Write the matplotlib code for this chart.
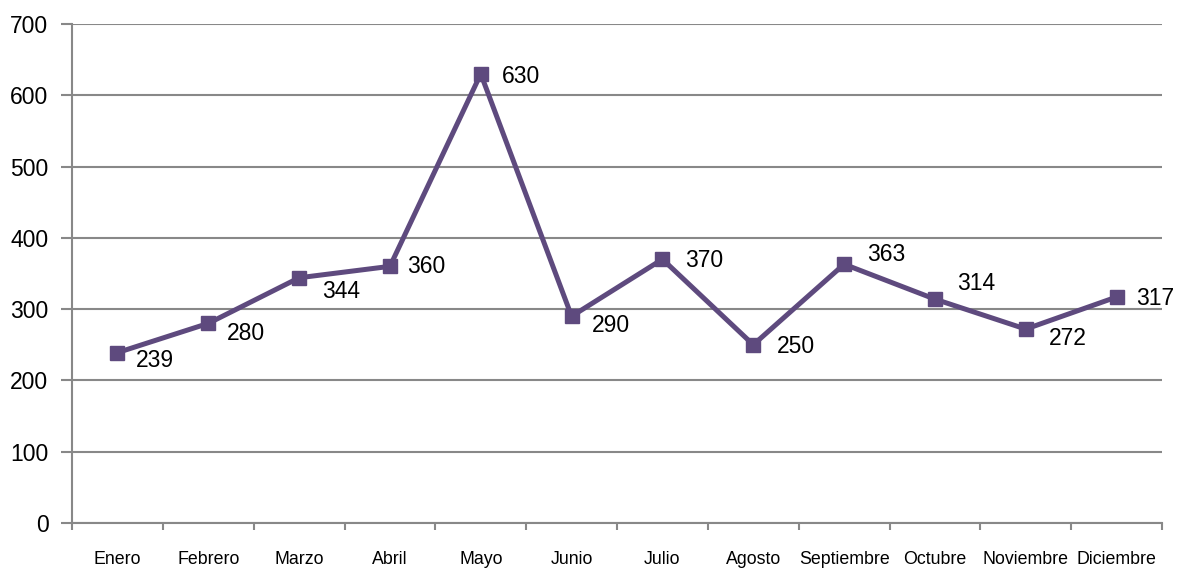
import matplotlib
matplotlib.use("Agg")
import matplotlib.pyplot as plt
from matplotlib import font_manager as fm

months = ["Enero", "Febrero", "Marzo", "Abril", "Mayo", "Junio", "Julio",
          "Agosto", "Septiembre", "Octubre", "Noviembre", "Diciembre"]
values = [239, 280, 344, 360, 630, 290, 370, 250, 363, 314, 272, 317]
y_ticks = [0, 100, 200, 300, 400, 500, 600, 700]

# label offsets in points (dx, dy)
offsets = [(27, -6), (27, -7), (30, -10), (26, 0), (29, -2), (28, -7),
           (30, -1), (31, -1), (30, 7), (30, 11), (30, -7), (28, -1)]

names = {f.name for f in fm.fontManager.ttflist}
fam = ["Liberation Sans Narrow"] if "Liberation Sans Narrow" in names else ["Liberation Sans"]
plt.rcParams["font.family"] = fam + ["DejaVu Sans"]

fig = plt.figure(figsize=(11.85, 5.71), dpi=100)
ax = fig.add_axes([0.0608, 0.0841, 0.9198, 0.8739])

color = "#5E4A7E"
x = list(range(len(months)))
ax.plot(x, values, color=color, lw=3.6, marker="s", ms=9.5, zorder=3)
for xi, v, (dx, dy) in zip(x, values, offsets):
    ax.annotate(str(v), (xi, v), xytext=(dx, dy), textcoords="offset points",
                ha="center", va="center", fontsize=16.5, color="black")

ax.set_xlim(-0.5, len(months) - 0.5)
ax.set_ylim(0, 700)
ax.set_yticks(y_ticks)
ax.set_yticklabels([str(t) for t in y_ticks], fontsize=16.5)
ax.set_xticks(x)
ax.set_xticklabels(months, fontsize=12.8)
ax.tick_params(axis="x", length=0, pad=20)
ax.set_xticks([i - 0.5 for i in range(len(months) + 1)], minor=True)
ax.tick_params(axis="x", which="minor", length=5, color="#888888", width=1.5, direction="out")
ax.tick_params(axis="y", length=8, color="#888888", width=1.5, direction="out", pad=9)

ax.grid(axis="y", color="#888888", lw=1.5, zorder=0)
ax.set_axisbelow(True)
for s in ["top", "right"]:
    ax.spines[s].set_visible(False)
for s in ["left", "bottom"]:
    ax.spines[s].set_color("#888888")
    ax.spines[s].set_linewidth(1.5)

fig.savefig("out.png", dpi=100)
